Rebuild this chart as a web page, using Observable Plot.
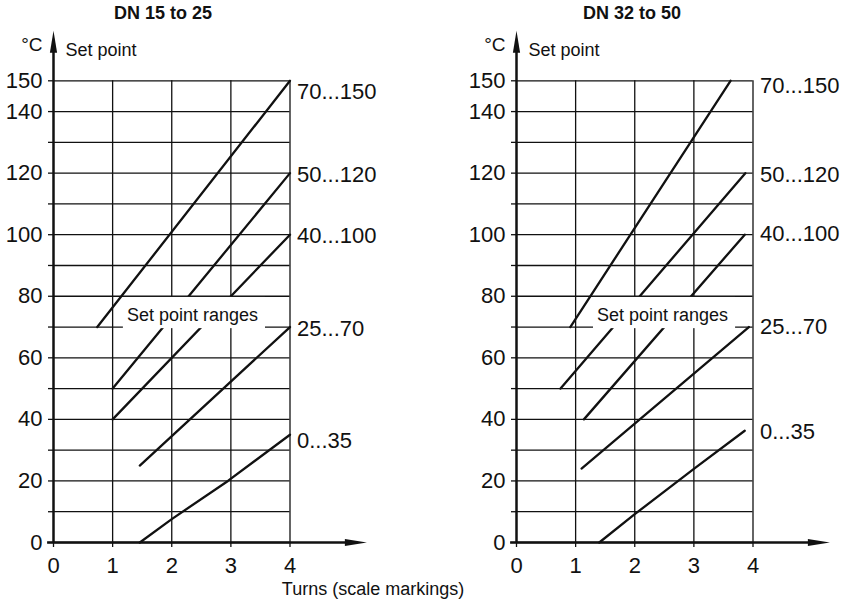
<!DOCTYPE html>
<html>
<head>
<meta charset="utf-8">
<script src="https://cdn.jsdelivr.net/npm/d3@7"></script>
<script src="https://cdn.jsdelivr.net/npm/@observablehq/plot@0.6"></script>
<style>
  body { margin: 0; background: #fff; }
  #root { position: relative; width: 847px; height: 602px; font-family: "Liberation Sans", Arial, sans-serif; color: #111; overflow: hidden; background: #fff; }
  .title { position: absolute; top: 0; height: 26px; line-height: 26px; font-weight: bold; font-size: 18px; transform: translateX(-50%); white-space: nowrap; }
  .panel { position: absolute; top: 26px; }
  .caption { position: absolute; top: 576px; height: 26px; line-height: 26px; font-size: 18px; transform: translateX(-50%); white-space: nowrap; }
  svg { overflow: visible; }
</style>
</head>
<body>
<div id="root">
  <div class="title" style="left:163px">DN 15 to 25</div>
  <div class="title" style="left:632px">DN 32 to 50</div>
  <div class="panel" id="p1" style="left:0px"></div>
  <div class="panel" id="p2" style="left:463px"></div>
  <div class="caption" style="left:373px">Turns (scale markings)</div>
</div>
<script>
// ---- data ----
const ranges = ["70...150", "50...120", "40...100", "25...70", "0...35"];

// DN 15 to 25: turns and set points along each range line
const dn15Turns = [[0.74, 4], [1, 4], [1, 4], [1.46, 4], [1.46, 2, 2.95, 4]];
const dn15Temps = [[70, 150], [50, 120], [40, 100], [25, 70], [0, 7.6, 20, 35]];
const dn15LabelY = [146.3, 119.5, 99.5, 69.4, 33.1];

// DN 32 to 50
const dn32Turns = [[0.91, 3.62], [0.745, 3.87], [1.14, 3.86], [1.10, 3.93], [1.40, 2, 3, 3.86]];
const dn32Temps = [[70, 150], [50, 120], [40, 100], [24, 70], [0, 9.2, 23.9, 36.3]];
const dn32LabelY = [148.2, 119.5, 100.1, 70, 35.8];

const yTicks = d3.range(0, 151, 10);
const yLabels = [0, 20, 40, 60, 80, 100, 120, 140, 150];
const xTicks = [0, 1, 2, 3, 4];
const rangesLabel = "Set point ranges";

// ---- arrowheads (tip at the symbol origin) ----
const arrowUp = { draw(ctx) { ctx.moveTo(0, 0); ctx.lineTo(3.6, 22); ctx.lineTo(-3.6, 22); ctx.closePath(); } };
const arrowRight = { draw(ctx) { ctx.moveTo(0, 0); ctx.lineTo(-22, 3.6); ctx.lineTo(-22, -3.6); ctx.closePath(); } };

const ink = "#111";
const font = '"Liberation Sans", Arial, sans-serif';

function makePanel(container, turns, temps, labelY, boxX) {
  const rows = ranges.flatMap((r, i) => turns[i].map((t, j) => ({ range: r, turns: t, temp: temps[i][j] })));
  const labels = ranges.map((r, i) => ({ range: r, y: labelY[i] }));
  const plot = Plot.plot({
    width: 384, height: 550,
    marginLeft: 53, marginRight: 94.5, marginTop: 54.3, marginBottom: 34,
    x: { domain: [0, 4] },
    y: { domain: [0, 150] },
    style: { fontFamily: font, fontSize: "22px", color: ink, background: "white", overflow: "visible" },
    marks: [
      Plot.ruleY(yTicks, { x1: 0, x2: 4, stroke: ink, strokeWidth: 1.3 }),
      Plot.ruleX(xTicks.slice(1), { y1: 0, y2: 150, stroke: ink, strokeWidth: 1.3 }),
      Plot.axisY(yTicks, { tickSize: 5, tickPadding: 6, stroke: ink, strokeWidth: 1.3, fill: ink,
        tickFormat: d => yLabels.includes(d) ? String(d) : "", label: null, fontSize: 22 }),
      Plot.axisX(xTicks, { tickSize: 5, tickPadding: 10, stroke: ink, strokeWidth: 1.3, fill: ink, label: null, fontSize: 22 }),
      Plot.ruleX([0], { y1: 0, y2: 160, stroke: ink, strokeWidth: 2.5 }),
      Plot.ruleY([0], { x1: -0.1, x2: 5.0, stroke: ink, strokeWidth: 2.5 }),
      Plot.dot([0], { x: 0, y: 166.3, symbol: arrowUp, fill: ink, stroke: "none" }),
      Plot.dot([0], { x: 5.3, y: 0, symbol: arrowRight, fill: ink, stroke: "none" }),
      Plot.line(rows, { x: "turns", y: "temp", z: "range", stroke: ink, strokeWidth: 2.3 }),
      Plot.text(labels, { x: 4, y: "y", text: "range", textAnchor: "start", dx: 7, fontSize: 22, fill: ink }),
      Plot.text([rangesLabel], { x: boxX, y: 73.8, text: d => d, fontSize: 18, fill: ink }),
      Plot.text(["°C"], { x: 0, y: 161.5, text: d => d, dx: -11, textAnchor: "end", fontSize: 19, fill: ink }),
      Plot.text(["Set point"], { x: 0, y: 159.9, text: d => d, dx: 12, textAnchor: "start", fontSize: 18, fill: ink })
    ]
  });
  container.appendChild(plot);

  // white box behind the "Set point ranges" label, hiding the grid cell under it
  const t = [...plot.querySelectorAll("text")].find(e => e.textContent === rangesLabel);
  if (t) {
    let g = t;
    while (g.parentNode && g.parentNode !== plot) g = g.parentNode;
    const sr = plot.getBoundingClientRect();
    const tr = t.getBoundingClientRect();
    const ys = plot.scale("y");
    const top = ys.apply(80) + 1.2;
    const bottom = ys.apply(70) + 1.6;
    const rect = document.createElementNS("http://www.w3.org/2000/svg", "rect");
    rect.setAttribute("x", tr.left - sr.left - 4);
    rect.setAttribute("width", tr.width + 11);
    rect.setAttribute("y", top);
    rect.setAttribute("height", bottom - top);
    rect.setAttribute("fill", "white");
    plot.insertBefore(rect, g);
  }
}

makePanel(document.getElementById("p1"), dn15Turns, dn15Temps, dn15LabelY, 2.35);
makePanel(document.getElementById("p2"), dn32Turns, dn32Temps, dn32LabelY, 2.47);
</script>
</body>
</html>
